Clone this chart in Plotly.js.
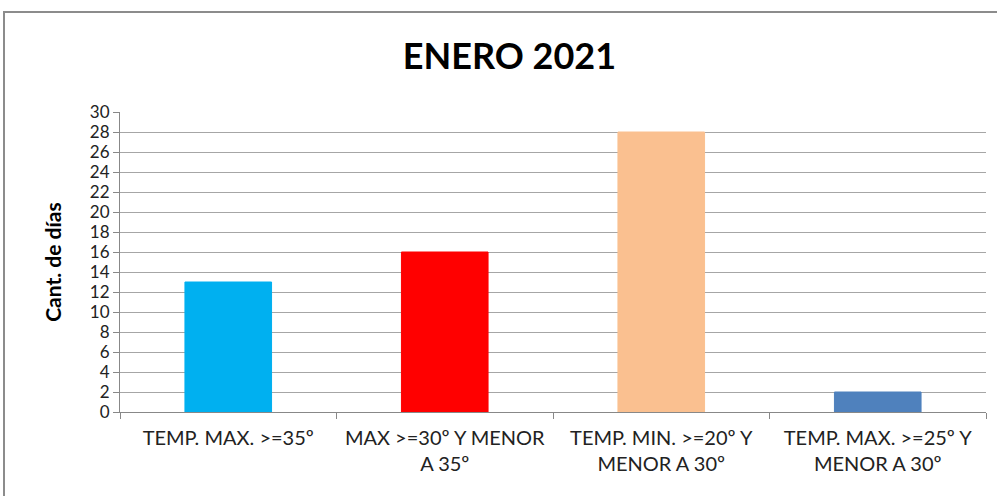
<!DOCTYPE html>
<html>
<head>
<meta charset="utf-8">
<script src="https://cdn.plot.ly/plotly-3.0.1.min.js"></script>
<style>
html,body{margin:0;padding:0;background:#fff;}
#wrap{position:relative;width:997px;height:496px;overflow:hidden;}
#chart{position:absolute;left:0;top:0;width:997px;height:496px;}
#frame{position:absolute;left:3px;top:11px;width:1100px;height:600px;border:2px solid #8c8c8c;pointer-events:none;}
</style>
</head>
<body>
<div id="wrap"><div id="chart"></div><div id="frame"></div></div>
<script>
const categories = [
  "TEMP. MAX. >=35º",
  "MAX >=30º Y MENOR<br>A 35º",
  "TEMP. MIN. >=20º Y<br>MENOR A 30º",
  "TEMP. MAX. >=25º Y<br>MENOR A 30º"
];
const values = [13, 16, 28, 2];
const colors = ["#00B0F0", "#FF0000", "#FAC090", "#4F81BD"];
const yTicks = [0,2,4,6,8,10,12,14,16,18,20,22,24,26,28,30];

const trace = {
  type: "bar",
  x: categories,
  y: values,
  width: 0.4,
  marker: {color: colors, line: {color: colors, width: 1}},
  hoverinfo: "x+y"
};

const layout = {
  width: 997, height: 496,
  margin: {l: 120, r: 11, t: 112, b: 84},
  paper_bgcolor: "#fff", plot_bgcolor: "#fff",
  font: {family: "Lato, 'Open Sans', sans-serif", color: "#222"},
  title: {
    text: "<b>ENERO 2021</b>",
    font: {family: "Lato, sans-serif", size: 36, color: "#000"},
    x: 0.511, xref: "container", xanchor: "center",
    y: 0.887, yref: "container", yanchor: "middle"
  },
  showlegend: false,
  xaxis: {
    type: "category",
    showline: true, linecolor: "#888", linewidth: 1,
    ticks: "outside", tickson: "boundaries", ticklen: 6, tickcolor: "#888",
    tickfont: {family: "Lato, sans-serif", size: 20, color: "#222"},
    showgrid: false,
    ticklabelstandoff: 8
  },
  yaxis: {
    range: [0, 30],
    tickvals: yTicks,
    ticktext: yTicks.map(String),
    showline: true, linecolor: "#888", linewidth: 1,
    ticks: "outside", ticklen: 6, tickcolor: "#888",
    showgrid: true, gridcolor: "#a6a6a6", gridwidth: 1,
    zeroline: false,
    tickfont: {family: "Lato, sans-serif", size: 17, color: "#222"},
    title: {text: "<b>Cant. de días</b>", font: {family: "Lato, sans-serif", size: 21, color: "#000"}, standoff: 22}
  }
};

Plotly.newPlot("chart", [trace], layout, {displayModeBar: false, staticPlot: true});
</script>
</body>
</html>
